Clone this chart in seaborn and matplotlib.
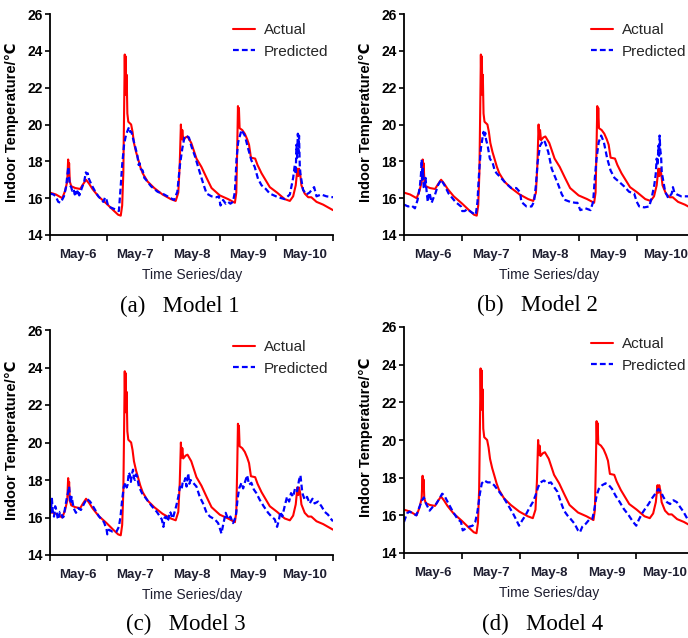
import matplotlib
matplotlib.use("Agg")
import matplotlib.pyplot as plt
import seaborn as sns
import pandas as pd

# ---------------- data ----------------
day_labels = ["May-6", "May-7", "May-8", "May-9", "May-10"]
day_centers = [12, 36, 60, 84, 108]
day_bounds = [0, 24, 48, 72, 96, 120]
y_ticks = [14, 16, 18, 20, 22, 24, 26]
captions = [("(a)", "Model 1"), ("(b)", "Model 2"), ("(c)", "Model 3"), ("(d)", "Model 4")]

actual_hours = [0, 2.5, 5.2, 6.4, 7.3, 7.7, 7.9, 8.1, 8.4, 9.0, 10.7, 12.8, 14.0, 15.3, 16.5, 18.0,
                20.5, 24.0, 26.8, 28.9, 30.0, 30.6, 31.1, 31.4, 31.7, 31.9, 32.1, 32.3, 32.5, 32.8,
                33.2, 34.4, 35.0, 35.6, 36.5, 37.3, 38.3, 39.3, 41.4, 44.2, 47.7, 51.2, 53.3, 54.4,
                55.0, 55.5, 55.8, 56.1, 56.5, 57.5, 58.3, 59.9, 62.1, 64.2, 66.4, 68.5, 72.0, 75.5,
                78.4, 79.0, 79.4, 79.7, 79.9, 80.1, 80.4, 81.5, 82.6, 83.6, 84.4, 85.2, 87.0, 88.0,
                89.7, 93.2, 96.3, 99.5, 101.7, 103.1, 104.2, 104.9, 105.3, 105.6, 106.1, 106.6,
                108.0, 109.5, 110.8, 113.0, 115.8, 120.0]
actual_temp = [16.3, 16.2, 16.0, 16.4, 16.9, 18.1, 17.3, 17.9, 16.9, 16.65, 16.55, 16.5, 16.75, 17.0,
               16.8, 16.5, 16.1, 15.7, 15.35, 15.1, 15.05, 15.6, 17.4, 20.5, 23.8, 22.0, 23.7, 21.6,
               22.7, 20.6, 20.15, 20.0, 19.6, 19.0, 18.5, 18.15, 17.7, 17.35, 16.9, 16.55, 16.2,
               15.95, 15.85, 16.3, 17.8, 20.0, 19.2, 19.7, 19.15, 19.3, 19.35, 19.0, 18.15, 17.7,
               17.1, 16.55, 16.15, 15.95, 15.75, 16.3, 18.8, 21.0, 20.0, 20.9, 19.8, 19.7, 19.5,
               19.2, 18.9, 18.2, 18.15, 17.8, 17.35, 16.6, 16.3, 15.95, 15.85, 16.1, 16.7, 17.6,
               17.2, 17.6, 17.3, 16.7, 16.25, 16.05, 16.05, 15.8, 15.65, 15.35]

pred1_hours = [0, 1.5, 2.4, 3.5, 4.5, 5.9, 6.8, 7.4, 7.8, 8.1, 8.4, 9.0, 9.4, 10.0, 10.5, 11.0, 11.4,
               12.0, 12.4, 13.5, 14.5, 15.2, 15.6, 16.0, 16.5, 17.7, 19.0, 20.5, 22.6, 23.4, 24.0,
               24.7, 27.5, 29.2, 29.9, 30.6, 31.4, 32.0, 32.4, 33.0, 33.5, 34.0, 34.5, 35.6, 37.0,
               37.6, 38.0, 38.4, 39.3, 40.0, 40.7, 42.8, 45.6, 48.4, 51.2, 52.6, 54.0, 55.1, 56.1,
               57.0, 57.5, 58.9, 60.0, 61.4, 63.5, 65.2, 66.4, 68.5, 70.6, 71.6, 72.3, 73.4, 74.5,
               75.5, 76.5, 77.6, 78.4, 79.1, 79.8, 81.2, 82.6, 84.0, 85.4, 86.8, 88.2, 89.7, 91.5,
               93.2, 96.7, 99.5, 101.7, 103.1, 103.8, 104.2, 104.5, 104.8, 105.1, 105.3, 105.6,
               105.9, 106.2, 107.3, 108.7, 110.0, 111.0, 112.0, 113.0, 115.0, 117.2, 120.0]
pred1_temp = [16.25, 16.2, 16.1, 15.8, 15.75, 16.1, 16.6, 17.3, 17.7, 17.1, 16.7, 16.6, 16.4, 16.5,
              16.2, 16.4, 16.25, 16.45, 16.15, 16.55, 16.9, 17.4, 17.3, 17.35, 17.05, 16.7, 16.4,
              16.1, 15.8, 16.05, 15.9, 15.55, 15.4, 15.3, 16.5, 17.8, 18.9, 19.3, 19.5, 19.7, 19.85,
              19.6, 19.6, 19.05, 18.35, 17.8, 17.9, 17.6, 17.5, 17.1, 17.0, 16.65, 16.35, 16.2,
              16.0, 15.9, 16.35, 17.8, 18.7, 19.3, 19.4, 19.3, 18.8, 18.3, 17.4, 16.7, 16.25, 16.1,
              16.05, 16.1, 15.6, 15.9, 15.7, 15.8, 15.7, 15.8, 16.35, 18.15, 19.05, 19.7, 19.4,
              18.7, 18.05, 17.7, 17.05, 16.7, 16.5, 16.25, 16.05, 15.95, 16.2, 17.1, 17.8, 17.3,
              18.9, 18.2, 19.5, 18.5, 19.4, 17.8, 17.3, 16.45, 16.2, 16.3, 16.45, 16.6, 16.1, 16.2,
              16.1, 16.05]

pred2_hours = [0, 1.7, 3.1, 4.5, 5.6, 6.6, 7.0, 7.3, 7.6, 7.8, 8.1, 8.5, 8.9, 9.3, 9.8, 10.3, 10.7,
               11.4, 12.1, 12.8, 14.0, 15.3, 16.7, 18.4, 21.2, 23.5, 24.0, 25.0, 26.1, 28.2, 29.6,
               30.3, 30.7, 31.0, 31.7, 32.4, 32.8, 33.1, 33.5, 33.8, 34.5, 35.4, 36.6, 37.4, 38.2,
               40.0, 42.1, 44.2, 46.3, 47.7, 48.0, 48.4, 50.5, 52.6, 53.6, 54.4, 55.1, 56.1, 57.5,
               58.1, 59.5, 60.9, 62.3, 63.7, 65.1, 66.5, 68.5, 70.6, 71.5, 72.7, 74.8, 76.9, 78.0,
               78.7, 79.4, 80.3, 81.3, 82.4, 83.8, 85.2, 86.8, 88.6, 90.7, 92.8, 94.9, 96.0, 97.0,
               99.1, 101.1, 102.1, 103.2, 103.8, 104.2, 104.6, 104.9, 105.2, 105.4, 105.7, 106.0,
               106.3, 106.7, 107.7, 109.0, 110.4, 110.9, 111.5, 112.6, 114.3, 117.4, 120.0]
pred2_temp = [15.65, 15.55, 15.6, 15.45, 15.9, 16.7, 17.3, 18.1, 17.0, 17.6, 16.6, 16.5, 17.1, 16.4,
              15.8, 16.3, 16.2, 15.75, 16.0, 16.2, 16.7, 17.0, 16.7, 16.25, 15.8, 15.55, 15.3,
              15.3, 15.4, 15.2, 15.1, 15.8, 16.8, 17.45, 18.7, 19.3, 19.6, 19.3, 19.55, 19.2,
              18.85, 18.15, 17.9, 17.5, 17.35, 17.1, 16.8, 16.55, 16.55, 16.35, 16.2, 15.8, 15.55,
              15.55, 15.8, 16.7, 17.95, 18.85, 19.15, 19.05, 18.5, 17.6, 17.15, 16.7, 16.2, 15.9,
              15.8, 15.75, 15.75, 15.35, 15.45, 15.35, 15.8, 17.1, 18.15, 19.05, 19.4, 19.05,
              18.15, 17.5, 17.1, 16.9, 16.65, 16.35, 16.25, 15.8, 15.55, 15.5, 15.55, 16.0, 16.7,
              17.3, 18.15, 17.8, 18.85, 18.3, 19.4, 18.6, 18.3, 17.4, 17.1, 16.35, 16.0, 16.25,
              16.6, 16.3, 16.2, 16.1, 16.1, 16.05]

pred3_hours = [0, 0.3, 0.8, 1.2, 1.7, 2.2, 2.7, 3.2, 3.6, 4.2, 4.8, 5.3, 5.8, 6.5, 7.0, 7.6, 8.1, 8.7,
               9.2, 10.0, 11.0, 12.0, 13.1, 14.5, 15.6, 17.0, 18.7, 20.8, 22.9, 24.0, 24.3, 25.0,
               26.4, 28.2, 29.2, 29.9, 30.6, 31.3, 32.1, 32.5, 32.9, 33.4, 33.8, 34.3, 34.7, 35.2,
               35.6, 36.0, 36.5, 36.9, 37.7, 39.0, 41.1, 43.2, 45.3, 47.4, 48.1, 48.6, 49.2, 49.7,
               50.2, 50.7, 51.2, 51.8, 52.3, 53.5, 54.4, 55.1, 55.8, 56.3, 56.8, 57.4, 57.9, 58.6,
               59.1, 59.6, 60.7, 62.1, 63.5, 64.9, 66.4, 67.8, 69.9, 71.3, 72.7, 73.4, 74.5, 75.5,
               76.5, 77.6, 78.8, 79.5, 80.2, 81.2, 81.9, 82.7, 83.6, 84.4, 85.4, 86.4, 87.5, 88.9,
               90.6, 92.5, 93.9, 95.3, 96.3, 97.1, 97.7, 98.5, 99.5, 100.5, 101.4, 102.2, 103.1,
               103.9, 104.8, 105.6, 106.2, 107.0, 108.0, 109.0, 110.1, 111.3, 112.2, 113.7, 115.1,
               116.5, 117.9, 119.3, 120.0]
pred3_temp = [16.95, 16.25, 17.0, 16.3, 16.05, 16.6, 16.4, 16.0, 15.9, 16.3, 16.25, 16.0, 16.05, 16.6,
              16.95, 17.3, 17.65, 16.75, 17.1, 16.5, 16.25, 16.5, 16.4, 16.75, 17.0, 16.85, 16.5,
              16.05, 15.75, 15.35, 15.1, 15.35, 15.25, 15.25, 15.5, 16.05, 16.95, 17.65, 17.85,
              17.6, 17.75, 18.4, 18.3, 17.9, 18.3, 18.55, 18.1, 18.0, 18.3, 18.2, 17.65, 17.3,
              16.95, 16.6, 16.3, 15.9, 15.5, 16.0, 16.05, 15.8, 15.9, 16.3, 16.25, 15.95, 16.05,
              16.6, 17.1, 17.65, 17.5, 17.9, 17.85, 18.1, 17.65, 18.35, 17.8, 18.0, 17.85, 17.65,
              17.1, 16.75, 16.25, 16.05, 15.9, 15.7, 15.15, 15.6, 16.25, 15.9, 16.05, 15.7, 16.05,
              16.95, 17.55, 17.85, 17.55, 17.9, 18.25, 17.75, 17.85, 17.5, 17.3, 16.95, 16.6,
              16.25, 16.05, 15.9, 15.5, 15.9, 16.3, 16.05, 16.6, 17.1, 16.85, 17.3, 17.1, 17.55,
              17.4, 18.0, 18.25, 17.3, 16.95, 17.1, 16.75, 17.0, 16.75, 16.85, 16.6, 16.3, 16.15,
              15.9, 15.8]

pred4_hours = [0, 1.2, 2.3, 3.7, 5.1, 6.4, 7.5, 8.2, 9.2, 10.6, 11.9, 13.3, 14.7, 15.8, 16.7, 18.1,
               20.2, 22.2, 23.6, 24.3, 25.6, 27.0, 28.4, 29.5, 30.4, 31.4, 32.2, 33.2, 34.6, 35.9,
               37.3, 39.4, 41.4, 43.5, 45.1, 46.5, 47.6, 49.0, 50.3, 51.7, 53.3, 54.4, 55.5, 56.5,
               57.9, 59.4, 60.8, 62.1, 63.5, 64.9, 66.2, 67.6, 69.0, 70.6, 72.0, 72.8, 73.8, 75.2,
               76.5, 77.9, 78.6, 79.7, 80.6, 82.0, 83.4, 84.8, 86.1, 87.5, 89.3, 90.9, 93.0, 94.8,
               96.1, 97.1, 98.5, 99.8, 101.2, 102.6, 104.0, 105.3, 106.3, 107.4, 108.8, 110.1,
               111.5, 112.9, 114.2, 115.6, 117.3, 120.0]
pred4_temp = [15.65, 16.1, 16.2, 16.1, 16.0, 16.45, 16.8, 16.95, 16.6, 16.25, 16.45, 16.6, 16.9,
              17.15, 17.05, 16.7, 16.2, 15.8, 15.65, 15.2, 15.3, 15.4, 15.45, 15.65, 16.2, 17.15,
              17.7, 17.85, 17.75, 17.75, 17.6, 17.25, 16.9, 16.45, 16.1, 15.75, 15.45, 15.75, 16.0,
              16.35, 16.7, 17.05, 17.5, 17.75, 17.85, 17.7, 17.75, 17.5, 17.25, 16.7, 16.25, 16.0,
              15.8, 15.55, 15.2, 15.1, 15.4, 15.55, 15.75, 15.8, 16.2, 17.05, 17.4, 17.6, 17.7,
              17.6, 17.4, 17.05, 16.7, 16.35, 16.0, 15.65, 15.45, 15.75, 16.1, 16.35, 16.6, 16.9,
              17.15, 17.4, 17.25, 16.95, 16.7, 16.6, 16.8, 16.7, 16.45, 16.2, 15.8, 15.5]

predicted = [(pred1_hours, pred1_temp), (pred2_hours, pred2_temp),
             (pred3_hours, pred3_temp), (pred4_hours, pred4_temp)]

# ---------------- layout (pixel boxes) ----------------
W, H = 688, 638
# left, top, width, height of plot area; legend anchor (px); caption left/centre y
panels = [
    dict(box=(50, 14, 283, 221), leg=(233, 23), cap=(120, 306)),
    dict(box=(404, 14, 291, 221), leg=(591, 23), cap=(477, 305)),
    dict(box=(50, 330, 283, 225), leg=(233, 340), cap=(126, 624)),
    dict(box=(404, 327, 290, 226), leg=(591, 337), cap=(482, 624)),
]

sns.set_style("ticks")
plt.rcParams["font.family"] = ["Liberation Sans", "DejaVu Sans"]

fig = plt.figure(figsize=(W / 100, H / 100), dpi=100)
text_dark = "#1e1e30"

actual_df = pd.DataFrame({"hour": actual_hours, "temp": actual_temp})

for i, p in enumerate(panels):
    l, t, w, h = p["box"]
    ax = fig.add_axes([l / W, 1 - (t + h) / H, w / W, h / H])
    ph, pt = predicted[i]
    pred_df = pd.DataFrame({"hour": ph, "temp": pt})

    sns.lineplot(data=actual_df, x="hour", y="temp", ax=ax, color="#ff0000",
                 linewidth=1.5, estimator=None, sort=False, label="Actual")
    sns.lineplot(data=pred_df, x="hour", y="temp", ax=ax, color="#0000ff",
                 linewidth=1.6, estimator=None, sort=False, label="Predicted",
                 linestyle=(0, (2.6, 1.4)))

    ax.set_xlim(0, 120)
    ax.set_ylim(14, 26)
    for s in ["top", "right"]:
        ax.spines[s].set_visible(False)
    for s in ["left", "bottom"]:
        ax.spines[s].set_linewidth(1.3)
        ax.spines[s].set_color("black")

    ax.set_xticks(day_bounds)
    ax.set_xticklabels([])
    ax.set_xticks(day_centers, minor=True)
    ax.set_xticklabels(day_labels, minor=True)
    ax.tick_params(axis="x", which="major", direction="out", length=4, width=1.2, color="black")
    ax.tick_params(axis="x", which="minor", length=0, pad=10, labelsize=9.5, labelcolor=text_dark)
    for lab in ax.get_xticklabels(minor=True):
        lab.set_fontweight("bold")

    ax.set_yticks(y_ticks)
    ax.set_yticklabels([str(v) for v in y_ticks])
    ax.tick_params(axis="y", direction="out", length=3.5, width=1.2, pad=1.5,
                   labelsize=10, labelcolor="black", color="black")
    for lab in ax.get_yticklabels():
        lab.set_fontweight("bold")

    ax.set_xlabel("Time Series/day", fontsize=10, color=text_dark)
    ax.xaxis.set_label_coords(145 / w if i % 2 else 142 / w, -40 / h)
    ax.xaxis.label.set_va("center")
    ax.set_ylabel("Indoor Temperature/\u2103", fontsize=10.5, fontweight="bold", color="black")
    ax.yaxis.set_label_coords(-38 / w, 0.51)
    ax.yaxis.label.set_va("center")

    lx, ly = p["leg"]
    ax.legend(loc="upper left", bbox_to_anchor=((lx - l) / w, 1 - (ly - t) / h),
              frameon=False, fontsize=11, handlelength=1.45, handletextpad=0.55,
              labelspacing=0.5, borderpad=0, borderaxespad=0)

    cx, cy = p["cap"]
    tag, name = captions[i]
    fig.text(cx / W, 1 - cy / H, f"{tag}   {name}", fontsize=16.5,
             family=["Liberation Serif", "DejaVu Serif"], ha="left", va="center", color="black")

fig.savefig("out.png", dpi=100)
